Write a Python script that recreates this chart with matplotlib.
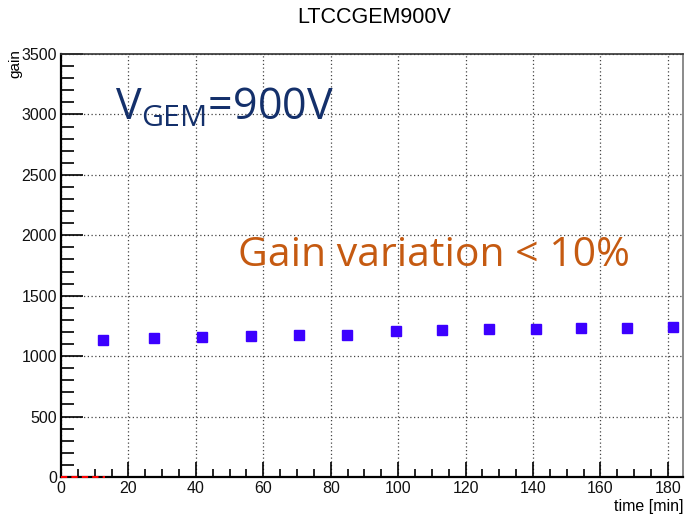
import matplotlib
matplotlib.use("Agg")
import matplotlib.pyplot as plt
from matplotlib.ticker import MultipleLocator

time_min = [12.5, 27.5, 41.8, 56.3, 70.6, 84.8, 99.3, 113.0, 126.9, 140.9, 154.2, 167.9, 181.5]
gain = [1131, 1150, 1158, 1167, 1178, 1178, 1206, 1214, 1222, 1222, 1233, 1233, 1244]
red_line_x = [0, 13]
red_line_y = [0, 0]

title = "LTCCGEM900V"
xlabel = "time [min]"
ylabel = "gain"

plt.rcParams['font.family'] = ['Liberation Sans', 'DejaVu Sans']
plt.rcParams['mathtext.fontset'] = 'custom'
plt.rcParams['mathtext.rm'] = 'Open Sans'
plt.rcParams['mathtext.it'] = 'Open Sans'

W, H = 685, 516
fig = plt.figure(figsize=(W / 100, H / 100), dpi=100)
ax = fig.add_axes([61 / W, 1 - 477 / H, (683 - 61) / W, (477 - 54) / H])

ax.set_xlim(0, 184.5)
ax.set_ylim(0, 3500)

ax.xaxis.set_major_locator(MultipleLocator(20))
ax.xaxis.set_minor_locator(MultipleLocator(5))
ax.yaxis.set_major_locator(MultipleLocator(500))
ax.yaxis.set_minor_locator(MultipleLocator(100))

ax.tick_params(axis='both', which='both', direction='in', top=False, right=False,
               labelsize=11.5, colors='black', pad=3)
ax.tick_params(axis='x', which='major', length=11, width=1.2)
ax.tick_params(axis='x', which='minor', length=6, width=1.2)
ax.tick_params(axis='y', which='major', length=16, width=1.2)
ax.tick_params(axis='y', which='minor', length=9, width=1.2)
for lab in ax.get_xticklabels() + ax.get_yticklabels():
    lab.set_color('#111111')

ax.grid(True, which='major', linestyle=(0, (1, 2)), linewidth=0.9, color='#444444')
ax.set_axisbelow(True)

for s in ['left', 'bottom']:
    ax.spines[s].set_linewidth(1.6)
    ax.spines[s].set_color('black')
ax.spines['top'].set_linewidth(1.2)
ax.spines['top'].set_color('#333333')
ax.spines['right'].set_linewidth(1.2)
ax.spines['right'].set_color('#777777')

ax.plot(red_line_x, red_line_y, color='red', linestyle=(0, (3, 2)), linewidth=1.5,
        zorder=5, clip_on=False)
ax.plot(time_min, gain, linestyle='none', marker='s', markersize=7.5,
        color='#3c00ff', markeredgecolor='#3c00ff', zorder=6, clip_on=False)

fig.text(374 / W, 1 - 17 / H, title, ha='center', va='center', fontsize=15.5)
fig.text(683 / W, 1 - 506 / H, xlabel, ha='right', va='center', fontsize=11.5)
fig.text(15 / W, 1 - 49 / H, ylabel, ha='center', va='top', rotation=90, fontsize=11)

fig.text(115 / W, 1 - 120 / H, r'$\mathregular{V_{GEM}}$=900V', ha='left', va='baseline',
         fontsize=31, color='#14306b', family='Open Sans')
fig.text(238 / W, 1 - 266 / H, 'Gain variation < 10%', ha='left', va='baseline',
         fontsize=29.5, color='#c55a11', family='Open Sans')

fig.savefig('out.png', dpi=100)
